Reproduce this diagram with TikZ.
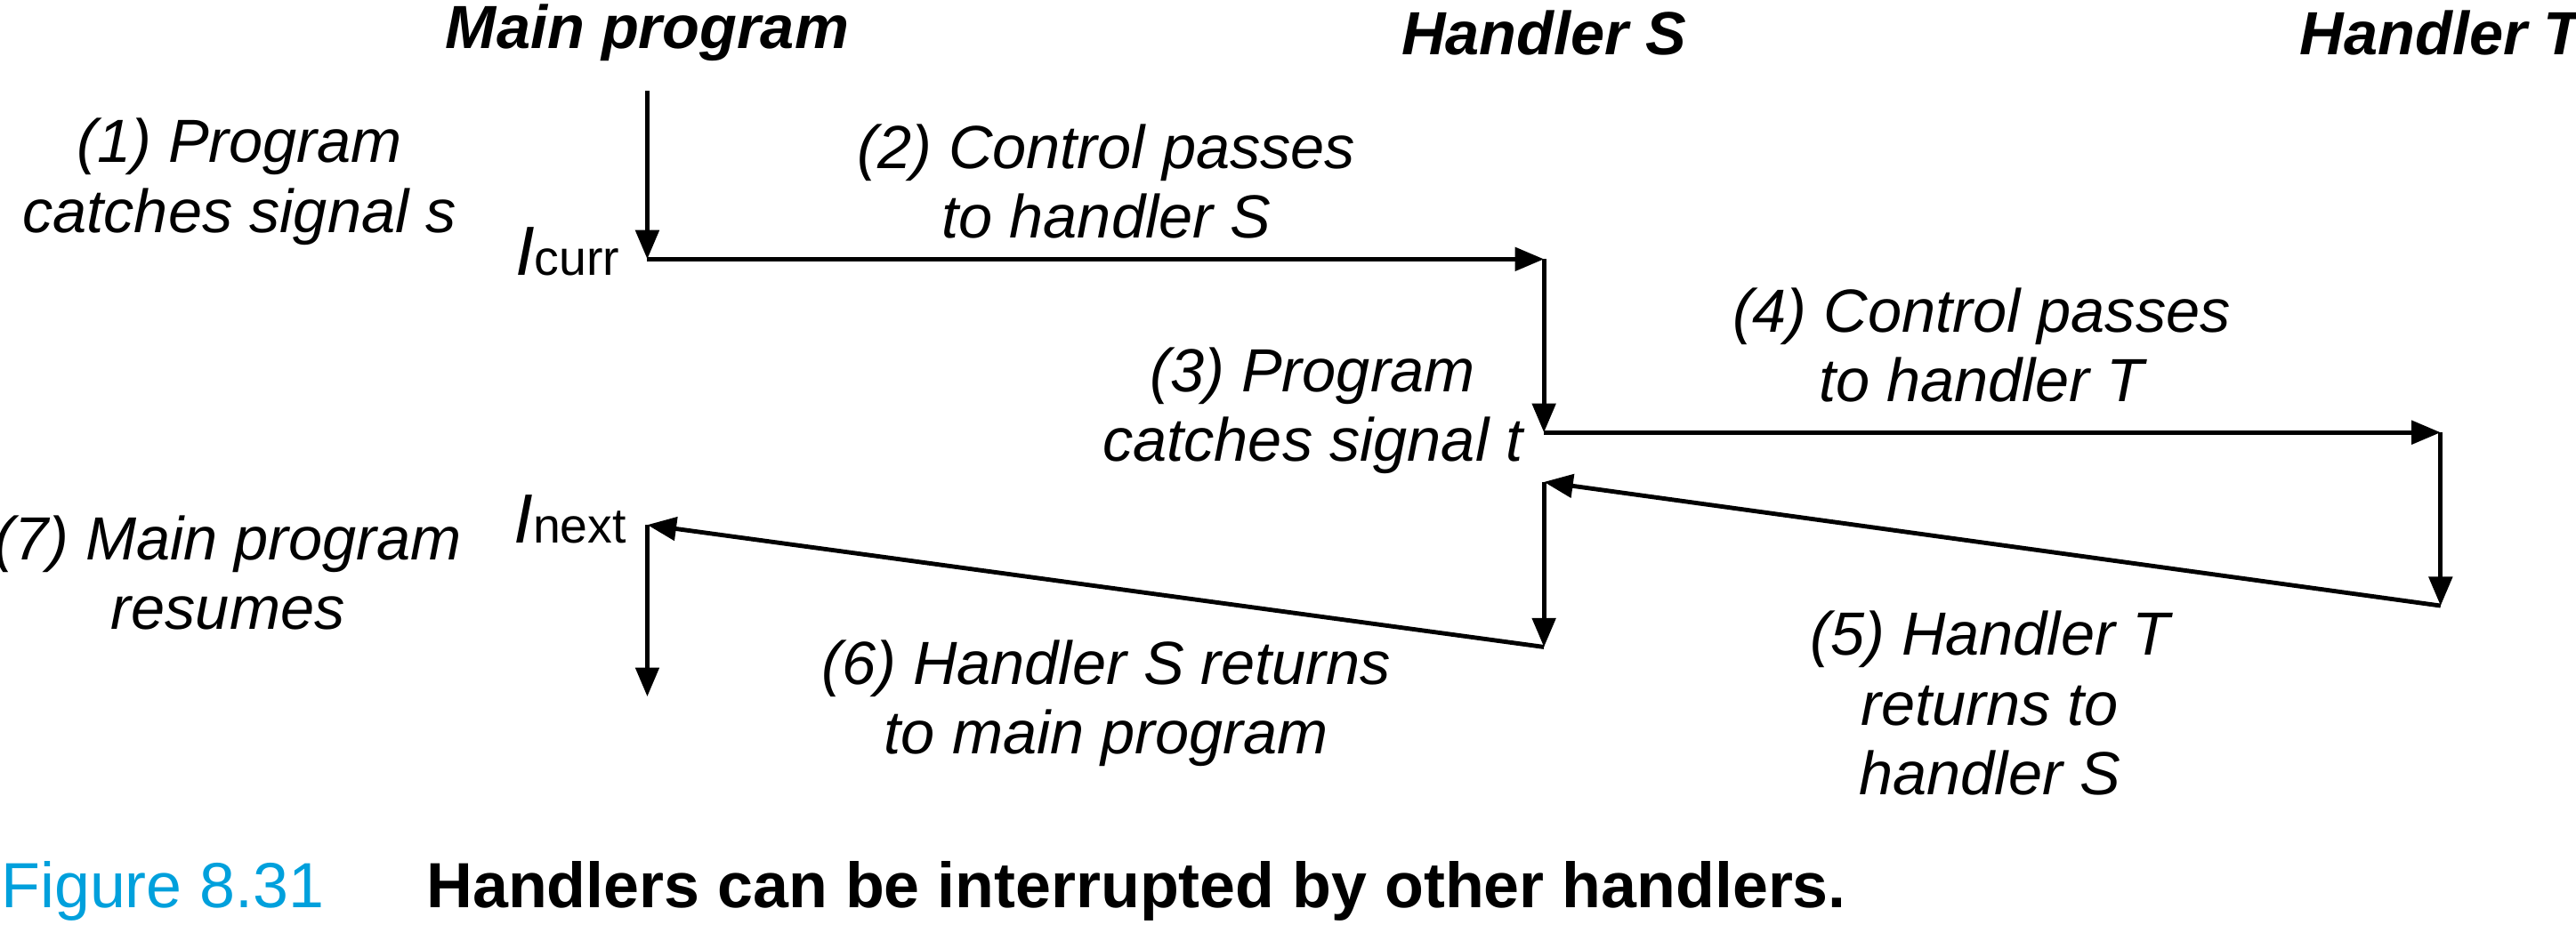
\documentclass[tikz,border=0pt]{standalone}
\usepackage{fontspec}
\setmainfont{Liberation Sans}
\usetikzlibrary{arrows.meta}
\definecolor{cap}{RGB}{0,160,220}
\begin{document}
\begin{tikzpicture}[x=0.01cm,y=-0.01cm,
  lab/.style={font=\fontsize{10.5}{12}\itshape\selectfont,align=center,inner sep=0},
  ttl/.style={font=\fontsize{10.5}{12}\bfseries\itshape\selectfont,inner sep=0},
  ar/.style={line width=0.75pt,-{Triangle[length=5pt,width=4pt]}}]
\useasboundingbox (0,0) rectangle (1560,570);
\node[ttl] (tm) at (392,20) {Main program};
\node[ttl] (ts) at (935,20) {Handler S};
\node[ttl] (tt) at (1478,20) {Handler T};
\coordinate (m0) at (392,55);
\coordinate (m1) at (392,157);
\coordinate (s1) at (935,157);
\coordinate (s2) at (935,262);
\coordinate (t2) at (1478,262);
\coordinate (t3) at (1478,367);
\coordinate (s3) at (935,292);
\coordinate (s4) at (935,392);
\coordinate (m4) at (392,318);
\coordinate (m5) at (392,422);
\draw[ar] (m0) -- (m1);
\draw[ar] (m1) -- (s1);
\draw[ar] (s1) -- (s2);
\draw[ar] (s2) -- (t2);
\draw[ar] (t2) -- (t3);
\draw[ar] (t3) -- (s3);
\draw[ar] (s3) -- (s4);
\draw[ar] (s4) -- (m4);
\draw[ar] (m4) -- (m5);
\node[lab,anchor=south east] (ic) at (376,168) {\fontsize{12}{12}\selectfont\itshape I\fontsize{8.5}{9}\upshape\selectfont curr};
\node[lab,anchor=south east] (in) at (380,330) {\fontsize{12}{12}\selectfont\itshape I\fontsize{8.5}{9}\upshape\selectfont next};
\node[lab] (l1) at (145,110) {(1) Program\\catches signal s};
\node[lab] (l2) at (670,110) {(2) Control passes\\to handler S};
\node[lab] (l3) at (795,249) {(3) Program\\catches signal t};
\node[lab] (l4) at (1200,209) {(4) Control passes\\to handler T};
\node[lab] (l5) at (1205,426) {(5) Handler T\\returns to\\handler S};
\node[lab] (l6) at (670,426) {(6) Handler S returns\\to main program};
\node[lab] (l7) at (138,347) {(7) Main program\\resumes};
\node[anchor=west,inner sep=0,font=\fontsize{11}{12}\selectfont] (cp) at (0,540)
  {\textcolor{cap}{Figure 8.31}\hspace{1.6em}\textbf{Handlers can be interrupted by other handlers.}};
\end{tikzpicture}
\end{document}
